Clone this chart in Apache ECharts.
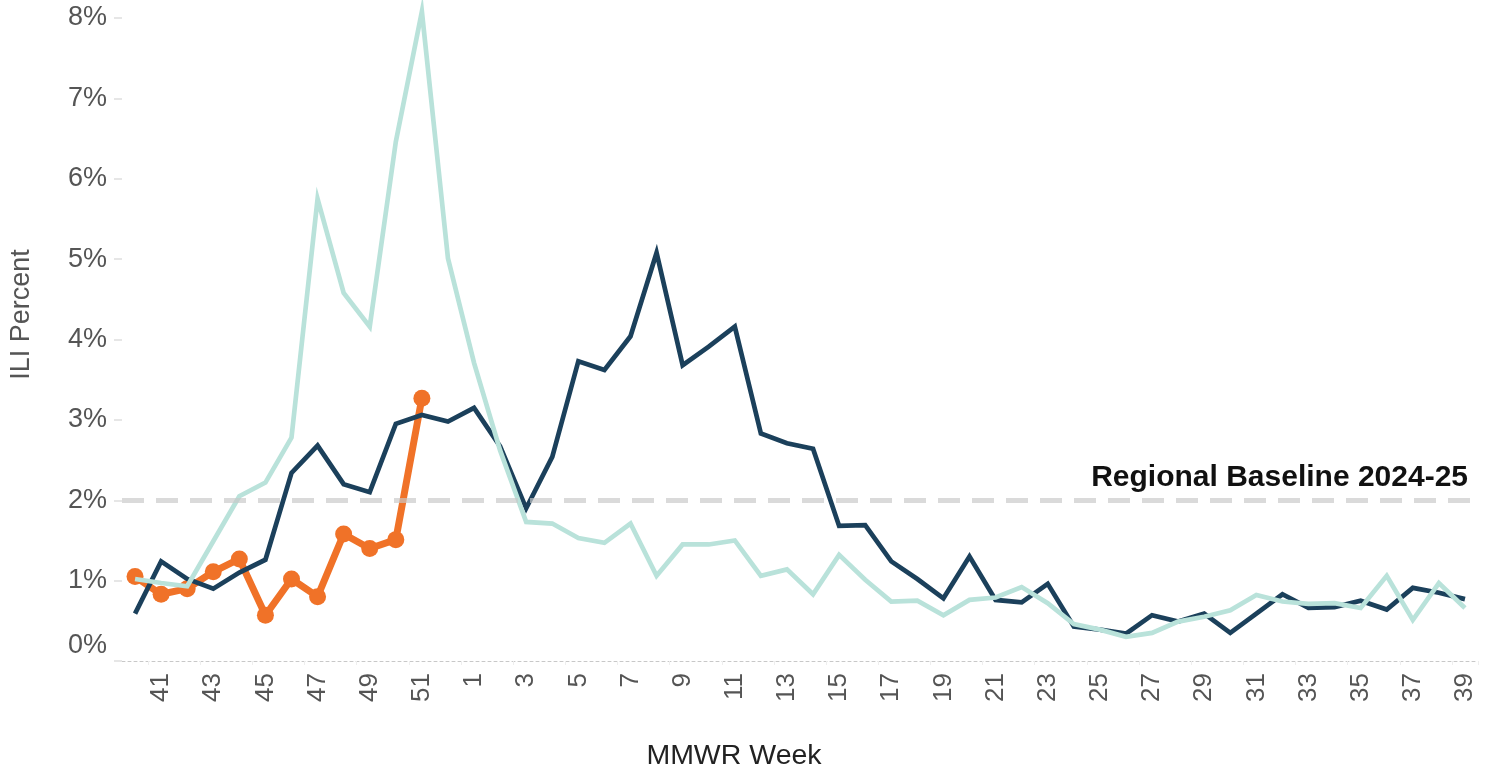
<!DOCTYPE html>
<html>
<head>
<meta charset="utf-8">
<script src="https://cdn.jsdelivr.net/npm/echarts@6/dist/echarts.min.js"></script>
<style>
  html, body { margin: 0; padding: 0; background: #fff; }
  #chart { width: 1489px; height: 770px; }
</style>
</head>
<body>
<div id="chart"></div>
<script>
// MMWR weeks, season runs week 40 -> week 39
const weeks = ["40","41","42","43","44","45","46","47","48","49","50","51","52",
  "1","2","3","4","5","6","7","8","9","10","11","12","13","14","15","16","17","18","19","20",
  "21","22","23","24","25","26","27","28","29","30","31","32","33","34","35","36","37","38","39"];

// earlier season (light teal)
const seasonTeal = [1.02,0.97,0.93,1.49,2.05,2.22,2.78,5.75,4.58,4.16,6.46,8.08,5.01,
  3.71,2.62,1.73,1.71,1.53,1.47,1.71,1.06,1.45,1.45,1.50,1.06,1.14,0.83,1.32,1.01,0.74,0.75,0.57,0.76,
  0.79,0.92,0.72,0.46,0.39,0.30,0.35,0.49,0.55,0.63,0.82,0.74,0.71,0.72,0.66,1.06,0.51,0.97,0.66];

// last season (dark navy)
const seasonDark = [0.59,1.24,1.02,0.90,1.10,1.26,2.34,2.68,2.20,2.10,2.95,3.06,2.98,
  3.15,2.67,1.90,2.54,3.73,3.62,4.04,5.08,3.68,3.91,4.16,2.83,2.71,2.64,1.68,1.69,1.24,1.02,0.78,1.30,
  0.76,0.73,0.96,0.43,0.39,0.34,0.57,0.49,0.59,0.35,0.59,0.83,0.66,0.67,0.75,0.64,0.91,0.85,0.77];

// current season (orange), weeks 40-51 so far
const seasonCurrent = [1.05,0.83,0.90,1.11,1.27,0.57,1.02,0.80,1.58,1.40,1.51,3.27];

const baselineValue = 2;
const baselineLabel = "Regional Baseline 2024-25";

const yTicks = [0,1,2,3,4,5,6,7,8];

const FONT = "Liberation Sans, Arial, sans-serif";

const chart = echarts.init(document.getElementById("chart"));

const option = {
  animation: false,
  backgroundColor: "#fff",
  grid: { left: 122, right: 11, top: 18, bottom: 109, containLabel: false, outerBoundsMode: "none" },
  xAxis: {
    type: "category",
    data: weeks,
    boundaryGap: true,
    name: "MMWR Week",
    nameLocation: "middle",
    nameGap: 81,
    nameTextStyle: { fontFamily: FONT, fontSize: 28.5, color: "#222", padding: [0, 132, 0, 0] },
    axisLine: { lineStyle: { color: "#c8c8c8", width: 1, type: [3, 3] } },
    axisTick: { show: true, length: 4, lineStyle: { color: "#eeeeee" } },
    axisLabel: {
      rotate: 90,
      margin: 12,
      fontFamily: FONT,
      fontSize: 26,
      color: "#555",
      interval: function (i) { return i % 2 === 1; }
    },
    splitLine: { show: false }
  },
  yAxis: {
    type: "value",
    min: yTicks[0],
    max: yTicks[yTicks.length - 1],
    interval: 1,
    name: "ILI Percent",
    nameLocation: "middle",
    nameRotate: 90,
    nameGap: 87,
    nameTextStyle: { fontFamily: FONT, fontSize: 27, color: "#555", padding: [0, 0, 0, 50] },
    axisLine: { show: false },
    axisTick: { show: true, length: 8, lineStyle: { color: "#e6e6e6", width: 2 } },
    axisLabel: {
      margin: 15,
      fontFamily: FONT,
      fontSize: 27,
      color: "#555",
      lineHeight: 30,
      formatter: function (v) { return v === 0 ? "0%\n\u00a0" : v + "%"; }
    },
    splitLine: { show: false }
  },
  series: [
    {
      name: "Current",
      type: "line",
      data: seasonCurrent,
      z: 2,
      clip: false,
      symbol: "circle",
      symbolSize: 17,
      showSymbol: true,
      itemStyle: { color: "#f07228" },
      lineStyle: { color: "#f07228", width: 7 }
    },
    {
      name: "Last season",
      type: "line",
      data: seasonDark,
      z: 3,
      clip: false,
      showSymbol: false,
      lineStyle: { color: "#1b405b", width: 4.7, join: "miter" }
    },
    {
      name: "Earlier season",
      type: "line",
      data: seasonTeal,
      z: 4,
      clip: false,
      showSymbol: false,
      lineStyle: { color: "#b9e2da", width: 4.7, join: "miter" },
      markLine: {
        silent: true,
        symbol: "none",
        z: 5,
        lineStyle: { color: "rgba(200,200,200,0.68)", width: 5, type: [22, 12] },
        label: {
          show: true,
          position: "insideEndTop",
          formatter: baselineLabel,
          fontFamily: FONT,
          fontSize: 30,
          fontWeight: "bold",
          color: "#111",
          distance: [10, 8]
        },
        data: [{ yAxis: baselineValue }]
      }
    }
  ]
};

chart.setOption(option);
</script>
</body>
</html>
